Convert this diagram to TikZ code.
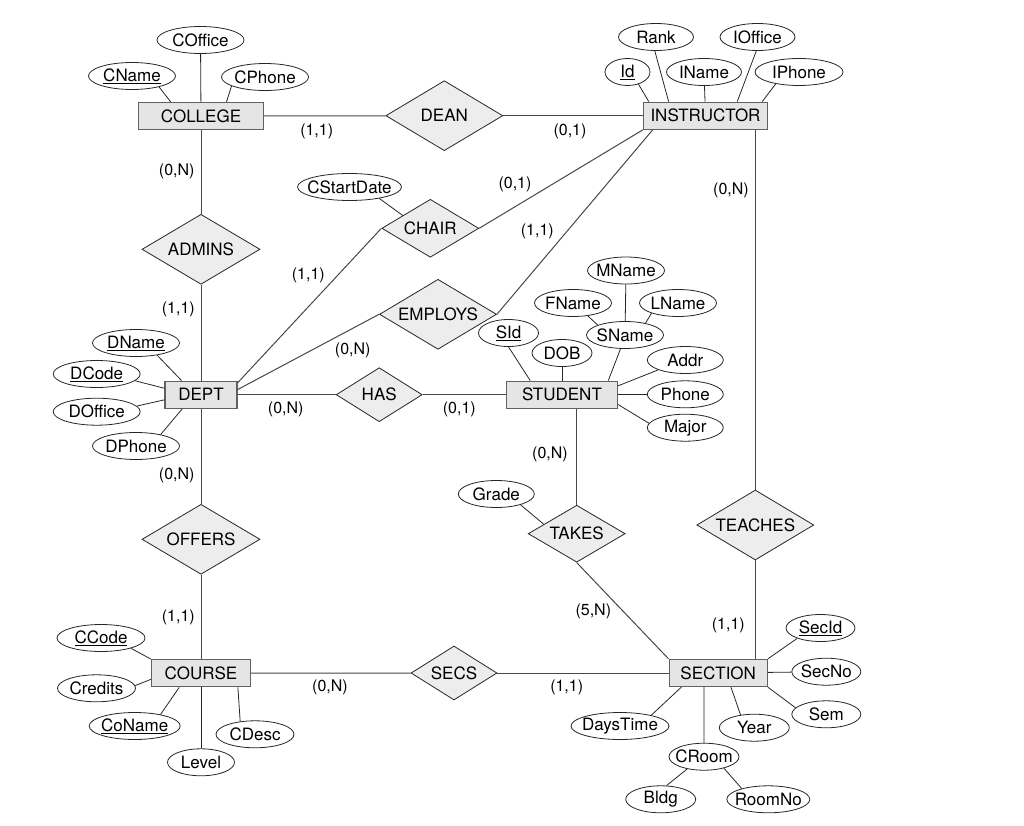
\documentclass[tikz,border=0pt]{standalone}
\usepackage{fontspec}
\setmainfont{TeX Gyre Heros}
\usetikzlibrary{shapes.geometric}
\definecolor{entfill}{gray}{0.9}
\definecolor{relfill}{gray}{0.93}
\definecolor{inkgray}{gray}{0.38}

\begin{document}
\begin{tikzpicture}
  [x=1pt,y=-1pt,font=\fontsize{17}{20}\selectfont,
   ent/.style={rectangle,draw=inkgray,line width=1.3pt,fill=entfill,minimum width=#1pt,minimum height=27pt,inner sep=0pt},
   rel/.style 2 args={diamond,aspect=2,draw=black!85,line width=.8pt,fill=relfill,minimum width=#1pt,minimum height=#2pt,inner sep=0pt},
   attr/.style={ellipse,draw=black!85,line width=.8pt,fill=white,minimum width=#1pt,minimum height=27pt,inner sep=0pt},
   card/.style={font=\fontsize{16}{19}\selectfont},
   link/.style={draw=black!72,line width=1pt}]
  \useasboundingbox (0,0) rectangle (1024,826);

  % entities
  \node[ent=125] (college) at (201,116) {COLLEGE};
  \node[ent=124] (instructor) at (705.5,115.7) {INSTRUCTOR};
  \node[ent=72] (dept) at (201,394.7) {DEPT};
  \node[ent=111] (student) at (562,394.7) {STUDENT};
  \node[ent=99] (course) at (201,673.2) {COURSE};
  \node[ent=98] (section) at (718.2,673) {SECTION};

  % relationships
  \node[rel={117}{70}] (dean) at (444.3,115.7) {DEAN};
  \node[rel={118}{70}] (admins) at (201,249.3) {ADMINS};
  \node[rel={97}{58}] (chair) at (430.3,228.3) {CHAIR};
  \node[rel={117}{70}] (employs) at (438,314.3) {EMPLOYS};
  \node[rel={86}{54}] (has) at (379.2,394.7) {HAS};
  \node[rel={118}{70}] (offers) at (201,539.3) {OFFERS};
  \node[rel={97}{57}] (takes) at (576.7,533.7) {TAKES};
  \node[rel={117}{70}] (teaches) at (755.3,525) {TEACHES};
  \node[rel={86}{54}] (secs) at (454,673) {SECS};

  % attributes
  \node[attr=87,label=center:COffice] (coffice) at (200.5,40) {};
  \node[attr=87,label=center:{\underline{CName}}] (cname) at (132,76) {};
  \node[attr=87,label=center:CPhone] (cphone) at (265,77) {};
  \node[attr=75,label=center:Rank] (rank) at (656,37) {};
  \node[attr=75,label=center:IOffice] (ioffice) at (757.5,37) {};
  \node[attr=45,label=center:{\underline{Id}}] (iid) at (627.5,72) {};
  \node[attr=75,label=center:IName] (iname) at (704,72) {};
  \node[attr=88,label=center:IPhone] (iphone) at (799,72) {};
  \node[attr=104,label=center:CStartDate] (cstartdate) at (349.5,187) {};
  \node[attr=77,label=center:MName] (mname) at (626,270.5) {};
  \node[attr=77,label=center:FName] (fname) at (573,303) {};
  \node[attr=77,label=center:LName] (lname) at (678,303) {};
  \node[attr=77,label=center:SName] (sname) at (625,335) {};
  \node[attr=60,label=center:{\underline{SId}}] (sid) at (508.5,333) {};
  \node[attr=60,label=center:DOB] (dob) at (562,353) {};
  \node[attr=76,label=center:Addr] (addr) at (685.3,360) {};
  \node[attr=76,label=center:Phone] (phone) at (685.3,394.3) {};
  \node[attr=76,label=center:Major] (major) at (685.3,427.7) {};
  \node[attr=87,label=center:{\underline{DName}}] (dname) at (136,343) {};
  \node[attr=87,label=center:{\underline{DCode}}] (dcode) at (96.7,374) {};
  \node[attr=87,label=center:DOffice] (doffice) at (96.7,411.7) {};
  \node[attr=87,label=center:DPhone] (dphone) at (136,446) {};
  \node[attr=76,label=center:Grade] (grade) at (496.3,494) {};
  \node[attr=88,label=center:{\underline{CCode}}] (ccode) at (101,638) {};
  \node[attr=78,label=center:Credits] (credits) at (96.5,688.3) {};
  \node[attr=91,label=center:{\underline{CoName}}] (coname) at (134.7,726) {};
  \node[attr=67,label=center:Level] (level) at (201,762.3) {};
  \node[attr=78,label=center:CDesc] (cdesc) at (255,734.3) {};
  \node[attr=69,label=center:{\underline{SecId}}] (secid) at (820.5,628) {};
  \node[attr=69,label=center:SecNo] (secno) at (826.3,671.7) {};
  \node[attr=69,label=center:Sem] (sem) at (826.3,714.3) {};
  \node[attr=70,label=center:Year] (year) at (754.3,727.7) {};
  \node[attr=98,label=center:DaysTime] (daystime) at (620,726) {};
  \node[attr=70,label=center:CRoom] (croom) at (704,756.7) {};
  \node[attr=70,label=center:Bldg] (bldg) at (660.7,799.3) {};
  \node[attr=83,label=center:RoomNo] (roomno) at (768.3,799.3) {};

  % cardinalities
  \node[card] (k1) at (316.7,131.5) {(1,1)};
  \node[card] (k2) at (570,131.5) {(0,1)};
  \node[card] (k3) at (176.7,171.7) {(0,N)};
  \node[card] (k4) at (178.3,309) {(1,1)};
  \node[card] (k5) at (515,184) {(0,1)};
  \node[card] (k6) at (308.3,275) {(1,1)};
  \node[card] (k7) at (537.3,231.7) {(1,1)};
  \node[card] (k8) at (352.7,350) {(0,N)};
  \node[card] (k9) at (731,190) {(0,N)};
  \node[card] (k10) at (285.7,409.3) {(0,N)};
  \node[card] (k11) at (459.3,409.3) {(0,1)};
  \node[card] (k12) at (176.7,475) {(0,N)};
  \node[card] (k13) at (550,454.3) {(0,N)};
  \node[card] (k14) at (178.3,617) {(1,1)};
  \node[card] (k15) at (593.3,611) {(5,N)};
  \node[card] (k16) at (728.3,625) {(1,1)};
  \node[card] (k17) at (330,687) {(0,N)};
  \node[card] (k18) at (566.7,687) {(1,1)};

  % relationship lines
  \foreach \from/\to in {college/dean,dean/instructor,college/admins,admins/dept,
      dept.18/chair.west,chair.east/instructor.south west,dept.8/employs.west,
      employs.east/instructor.195,dept/has,has/student,dept/offers,offers/course,
      takes.south/section.north west,course/secs,secs/section}
    \draw[link] (\from) -- (\to);
  \draw[link] (teaches.north) -- (teaches.north |- instructor.south);
  \draw[link] (teaches.south) -- (teaches.south |- section.north);
  \draw[link] (takes.north) -- (takes.north |- student.south);

  % attribute lines
  \foreach \from/\to in {cname.338/college.155,coffice/college,cphone.195/college.29,
      iid.312/instructor.166,rank.265/instructor.159,iname/instructor,
      ioffice.265/instructor.24,iphone.207/instructor.14,cstartdate.339/chair.155,
      mname/sname,fname.319/sname.160,lname.201/sname.30,sid.270/student.156,
      dob/student,sname.252/student.17,addr.200/student.9,phone/student,
      major.173/student.350,dname.330/dept.144,dcode.350/dept.170,
      doffice.8/dept.188,dphone.25/dept.217,grade.336/takes.164,
      ccode.341/course.north west,credits.4/course.187,coname.24/course.213,
      level/course,cdesc.139/course.339,secid.204/section.north east,
      secno/section,sem.168/section.south east,year.137/section.312,
      croom/section.225,daystime.19/section.201,bldg.67/croom.216,
      roomno.158/croom.330}
    \draw[link,line width=.8pt,draw=black!85] (\from) -- (\to);
\end{tikzpicture}
\end{document}
